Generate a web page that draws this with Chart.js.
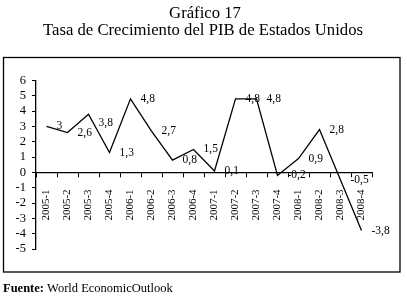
<!DOCTYPE html>
<html><head><meta charset="utf-8">
<script src="https://cdn.jsdelivr.net/npm/chart.js@4/dist/chart.umd.min.js"></script>
<style>html,body{margin:0;padding:0;background:#fff}#wrap{width:407px;height:297px;position:relative}</style>
</head><body><div id="wrap"><canvas id="c" width="407" height="297"></canvas></div>
<script>
const categories = ['2005-1','2005-2','2005-3','2005-4','2006-1','2006-2','2006-3','2006-4','2007-1','2007-2','2007-3','2007-4','2008-1','2008-2','2008-3','2008-4'];
const growth = [3, 2.6, 3.8, 1.3, 4.8, 2.7, 0.8, 1.5, 0.1, 4.8, 4.8, -0.2, 0.9, 2.8, -0.5, -3.8];
const yMin = -5, yMax = 6, yStep = 1;
const titleLines = ['Gráfico 17', 'Tasa de Crecimiento del PIB de Estados Unidos'];
const sourceLabel = 'Fuente:';
const sourceText = 'World EconomicOutlook';

const SERIF = "'Liberation Serif', 'Times New Roman', serif";

const framePlugin = {
  id: 'frame',
  beforeDraw(chart) {
    const ctx = chart.ctx;
    ctx.save();
    ctx.fillStyle = '#fff';
    ctx.fillRect(0, 0, chart.width, chart.height);
    ctx.strokeStyle = '#000';
    ctx.lineWidth = 1.3;
    ctx.strokeRect(3.5, 57.5, 396.5, 214.5);
    // titles
    ctx.fillStyle = '#000';
    ctx.textAlign = 'center';
    ctx.textBaseline = 'alphabetic';
    ctx.font = "16.7px " + SERIF;
    ctx.fillText(titleLines[0], 205, 18.3);
    ctx.fillText(titleLines[1], 203, 35);
    ctx.restore();
  },
  afterDraw(chart) {
    const ctx = chart.ctx;
    ctx.save();
    ctx.fillStyle = '#000';
    ctx.textBaseline = 'alphabetic';
    ctx.textAlign = 'left';
    ctx.font = "bold 12.5px " + SERIF;
    ctx.fillText(sourceLabel, 3, 291.5);
    const w = ctx.measureText(sourceLabel + ' ').width;
    ctx.font = "12.5px " + SERIF;
    ctx.fillText(sourceText, 3 + w, 291.5);
    ctx.restore();
  }
};

const valueLabelPlugin = {
  id: 'valueLabels',
  afterDatasetsDraw(chart, args, opts) {
    const ctx = chart.ctx;
    const meta = chart.getDatasetMeta(0);
    const data = chart.data.datasets[0].data;
    ctx.save();
    ctx.fillStyle = '#000';
    ctx.font = opts.size + "px " + SERIF;
    ctx.textAlign = 'left';
    ctx.textBaseline = 'middle';
    meta.data.forEach((pt, i) => {
      const txt = String(data[i]).replace('.', ',');
      const dy = (opts.nudge && opts.nudge[i]) || 0;
      ctx.fillText(txt, pt.x + opts.gap, pt.y + dy);
    });
    ctx.restore();
  }
};

new Chart(document.getElementById('c'), {
  type: 'line',
  data: {
    labels: categories,
    datasets: [{
      data: growth,
      borderColor: '#000',
      borderWidth: 1.3,
      pointRadius: 0,
      tension: 0,
      fill: false
    }]
  },
  options: {
    responsive: false,
    animation: false,
    devicePixelRatio: 1,
    layout: { padding: { left: 0, right: 35, top: 80.5, bottom: 48 } },
    plugins: {
      legend: { display: false },
      tooltip: { enabled: false },
      title: { display: false },
      valueLabels: { size: 11.5, gap: 10, nudge: { 2: 9 } }
    },
    scales: {
      x: {
        type: 'category',
        offset: true,
        position: { y: 0 },
        grid: { drawOnChartArea: false, drawTicks: true, tickLength: 4, color: '#000', lineWidth: 1, offset: true },
        border: { display: true, color: '#000', width: 1.3 },
        ticks: { color: '#000', font: { family: SERIF, size: 11 }, minRotation: 90, maxRotation: 90, padding: 13, autoSkip: false }
      },
      y: {
        min: yMin, max: yMax,
        afterFit(scale) { scale.width = 36; },
        grid: { drawOnChartArea: false, drawTicks: true, tickLength: 4, color: '#000', lineWidth: 1 },
        border: { display: true, color: '#000', width: 1.3 },
        ticks: { stepSize: yStep, autoSkip: false, color: '#000', font: { family: SERIF, size: 12.5 }, padding: 6 }
      }
    }
  },
  plugins: [framePlugin, valueLabelPlugin]
});
</script>
</body></html>
